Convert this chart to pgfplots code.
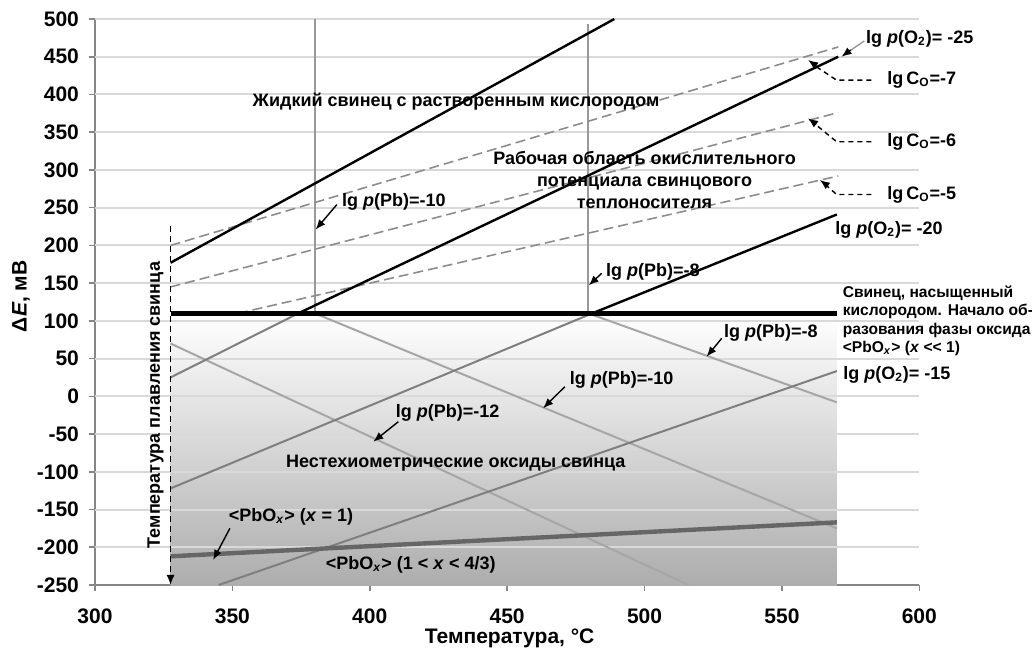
\documentclass[border=0pt]{standalone}
\usepackage{fontspec}
\setmainfont{Liberation Sans}
\usepackage{pgfplots}
\pgfplotsset{compat=1.18}
\usetikzlibrary{arrows.meta}
\definecolor{axgray}{HTML}{868686}
\definecolor{gridgray}{HTML}{D9D9D9}
\definecolor{shadegray}{HTML}{ADADAD}
\definecolor{lightln}{HTML}{A6A6A6}
\definecolor{midln}{HTML}{7F7F7F}
\definecolor{darkln}{HTML}{666666}
\definecolor{vertln}{HTML}{999999}
\definecolor{dashln}{HTML}{8C8C8C}
\begin{document}
\begin{tikzpicture}[font=\bfseries,
  lab/.style={font=\bfseries\fontsize{9}{11}\selectfont, inner sep=0pt},
  smalllab/.style={font=\bfseries\fontsize{7.8}{9.25}\selectfont, inner sep=0pt, align=left},
  arr/.style={-{Latex[length=5pt,width=4pt]}, line width=0.7pt, black}]
\begin{axis}[
  scale only axis, width=412.15pt, height=283pt,
  xmin=300, xmax=600, ymin=-250, ymax=500,
  xtick={300,350,...,600}, ytick={-250,-200,...,500},
  axis lines=left,
  axis line style={-, draw=axgray, line width=1pt},
  tick style={draw=axgray, line width=0.8pt},
  tick align=outside, major tick length=3pt,
  ticklabel style={font=\bfseries\fontsize{10.5}{12}\selectfont},
  yticklabel style={xshift=-1.5pt},
  xticklabel style={yshift=-5.5pt},
  /pgf/number format/assume math mode=true,
  clip=false,
]
% shaded oxide region
\addplot[draw=none, top color=white, bottom color=shadegray] coordinates {(327.5,110) (570,110) (570,-250) (327.5,-250)} -- cycle;
% grid lines
\pgfplotsinvokeforeach{-200,-150,...,500}{
  \addplot[gridgray, line width=1pt] coordinates {(300,#1) (600,#1)};
}
% vertical lines
\addplot[vertln, line width=0.9pt] coordinates {(380,110) (380,500)};
\addplot[vertln, line width=0.9pt] coordinates {(479.5,110) (479.5,493)};
% dashed lg C_O lines
\addplot[dashln, line width=0.8pt, dash pattern=on 5pt off 2.5pt] coordinates {(327.5,200) (570.5,463)};
\addplot[dashln, line width=0.8pt, dash pattern=on 5pt off 2.5pt] coordinates {(327.5,145) (570.5,376)};
\addplot[dashln, line width=0.8pt, dash pattern=on 5pt off 2.5pt] coordinates {(352,110) (570.5,292)};
% descending lg p(Pb) lines
\addplot[lightln, line width=1pt] coordinates {(479.5,110) (570,-8)};
\addplot[lightln, line width=1pt] coordinates {(380,110) (570,-175)};
\addplot[lightln, line width=1pt] coordinates {(327.5,70) (516,-250)};
% ascending grey parts of O2 lines
\addplot[midln, line width=1pt] coordinates {(327.5,25) (374,110)};
\addplot[midln, line width=1pt] coordinates {(327.5,-122) (481,110)};
\addplot[midln, line width=1pt] coordinates {(345,-250) (570,33.5)};
% PbO x=1
\addplot[darkln, line width=2.2pt] coordinates {(327.5,-212) (570,-167)};
% black O2 lines
\addplot[black, line width=1.2pt] coordinates {(327.5,177) (489,500)};
\addplot[black, line width=1.2pt] coordinates {(374,110) (570.5,450)};
\addplot[black, line width=1.2pt] coordinates {(481,110) (570,241)};
% saturated lead line
\addplot[black, line width=2.5pt] coordinates {(327.5,110) (570,110)};
% melting temperature
\addplot[black, line width=0.8pt, dash pattern=on 3pt off 2pt, -{Latex[length=5pt,width=4pt]}] coordinates {(327.5,226) (327.5,-250)};

% annotations
\node[lab] at (axis cs:431.4,391) {Жидкий свинец с растворенным кислородом};
\node[lab, align=center] at (axis cs:500,287) {Рабочая область окислительного\\потенциала свинцового\\теплоносителя};
\node[lab] at (axis cs:408.8,257.5) {lg \textit{p}(Pb)=-10};
\draw[arr] (axis cs:388,254) -- (axis cs:380.3,221);
\node[lab] at (axis cs:503,165) {lg \textit{p}(Pb)=-8};
\draw[arr] (axis cs:484.4,163) -- (axis cs:479.7,147);
\node[lab, anchor=west] at (axis cs:580.5,473.5) {lg \textit{p}(O\textsubscript{2})= -25};
\draw[line width=0.6pt, dashln] (axis cs:580,471) -- (axis cs:574,456);
\draw[arr] (axis cs:575,459) -- (axis cs:571.7,450);
\node[lab, anchor=west] at (axis cs:588.2,419) {lg\,C\textsubscript{O}=-7};
\draw[line width=0.7pt, dash pattern=on 2.5pt off 2pt] (axis cs:582.6,419) -- (axis cs:569.9,419) -- (axis cs:562,438);
\draw[arr] (axis cs:562.5,438) -- (axis cs:559.5,445.7);
\node[lab, anchor=west] at (axis cs:588.2,337.4) {lg\,C\textsubscript{O}=-6};
\draw[line width=0.7pt, dash pattern=on 2.5pt off 2pt] (axis cs:582.6,337.4) -- (axis cs:569.9,337.4) -- (axis cs:562,361);
\draw[arr] (axis cs:562.5,360.5) -- (axis cs:559.5,368.4);
\node[lab, anchor=west] at (axis cs:588.2,266.8) {lg\,C\textsubscript{O}=-5};
\draw[line width=0.7pt, dash pattern=on 2.5pt off 2pt] (axis cs:582.6,267.5) -- (axis cs:569.9,267.5) -- (axis cs:566,280);
\draw[arr] (axis cs:566.5,279.5) -- (axis cs:563.8,286.7);
\node[lab, anchor=west] at (axis cs:569.3,220.4) {lg \textit{p}(O\textsubscript{2})= -20};
\node[smalllab, anchor=west] at (axis cs:572,100) {Свинец, насыщенный\\кислородом. Начало об-\\разования фазы оксида\\<PbO\textsubscript{\textit{x}}> (\textit{x} <\kern0pt< 1)};
\node[lab] at (axis cs:546,83.5) {lg \textit{p}(Pb)=-8};
\draw[arr] (axis cs:528.1,76.9) -- (axis cs:522.6,52.6);
\node[lab, anchor=west] at (axis cs:572.2,28.3) {lg \textit{p}(O\textsubscript{2})= -15};
\node[lab] at (axis cs:491.7,21.7) {lg \textit{p}(Pb)=-10};
\draw[arr] (axis cs:471,12.8) -- (axis cs:463.1,-15.8);
\node[lab] at (axis cs:428.3,-22.5) {lg \textit{p}(Pb)=-12};
\draw[arr] (axis cs:410.4,-33.6) -- (axis cs:401.3,-60.1);
\node[lab] at (axis cs:431.3,-88.7) {Нестехиометрические оксиды свинца};
\node[lab] at (axis cs:371.3,-159.5) {<PbO\textsubscript{\textit{x}}> (\textit{x} = 1)};
\draw[arr] (axis cs:349.1,-174.9) -- (axis cs:343,-216.8);
\node[lab] at (axis cs:414.9,-223.5) {<PbO\textsubscript{\textit{x}}> (1 < \textit{x} < 4/3)};
\node[lab, rotate=90] at (axis cs:322,-11.5) {Температура плавления свинца};
% axis labels
\node[font=\bfseries\fontsize{10.5}{12}\selectfont, rotate=90] at (axis description cs:-0.0898,0.51) {Δ\textit{E}, мВ};
\node[font=\bfseries\fontsize{10.5}{12}\selectfont] at (axis description cs:0.503,-0.0936) {Температура, °C};
\end{axis}
\pgfresetboundingbox
\useasboundingbox (-47.5pt,-33.5pt) rectangle (468.5pt,292.5pt);
\end{tikzpicture}
\end{document}
